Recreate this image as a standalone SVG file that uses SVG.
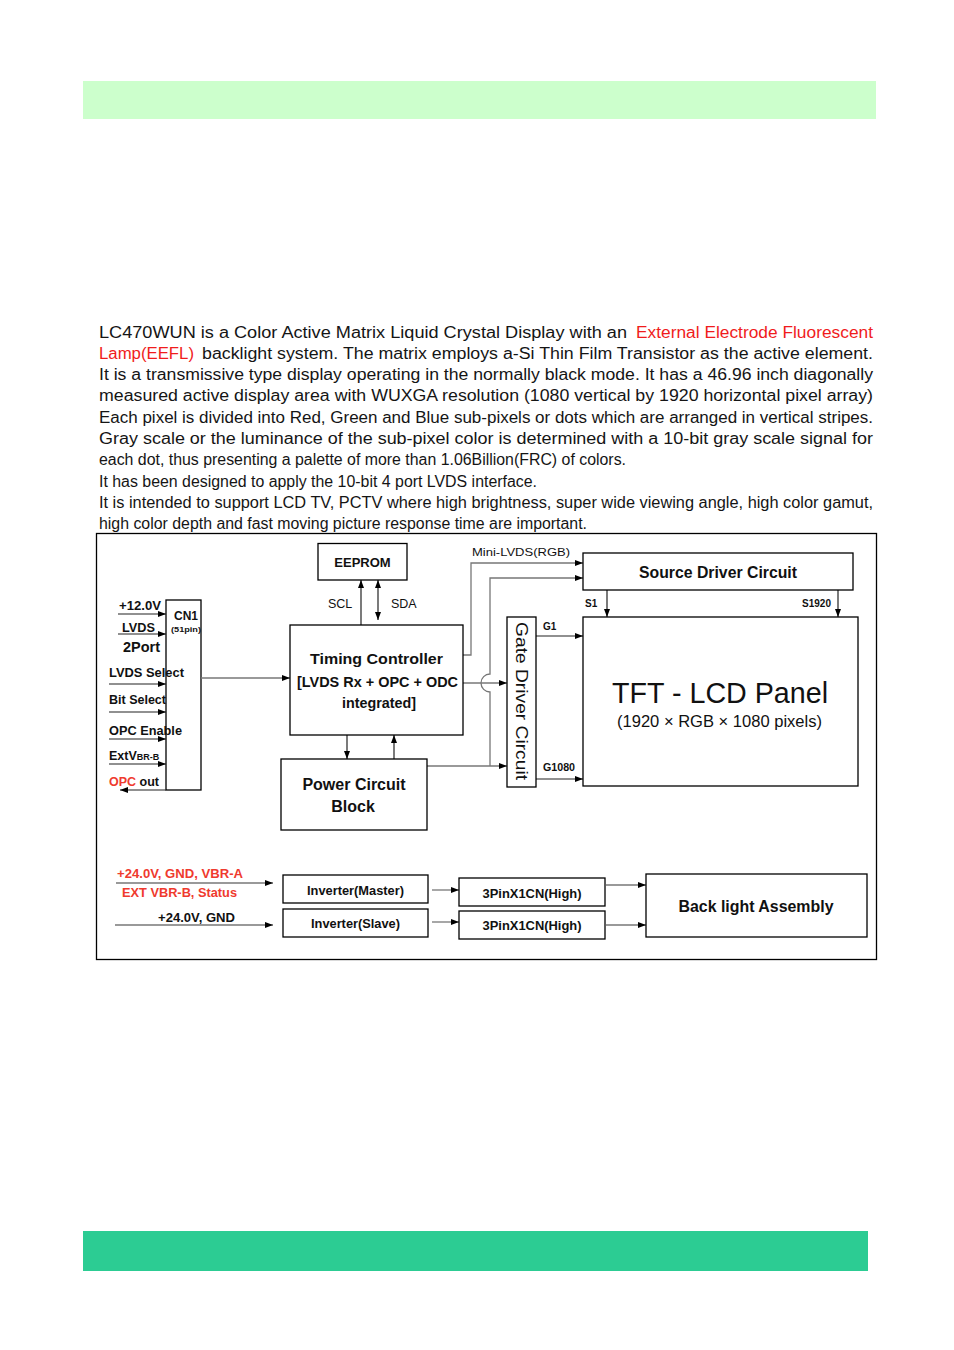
<svg xmlns="http://www.w3.org/2000/svg" width="954" height="1350" viewBox="0 0 954 1350">
<defs>
<marker id="ah" viewBox="0 0 8 6" markerWidth="8" markerHeight="6" refX="8" refY="3" orient="auto" markerUnits="userSpaceOnUse"><path d="M0,0 L8,3 L0,6 z" fill="#000"/></marker>
<style>
.p{font-family:'Liberation Sans',Arial,sans-serif;font-size:16px;fill:#151515}
.box{fill:#fff;stroke:#000;stroke-width:1.3}
.ln{fill:none;stroke:#777;stroke-width:1.3}
.lk{fill:none;stroke:#222;stroke-width:1.2}
.t{font-family:'Liberation Sans',Arial,sans-serif;fill:#111}
.b{font-weight:bold}
.m{text-anchor:middle}
.l12{font-size:12.5px;font-weight:bold}
.s10{font-size:10px;font-weight:bold}
.r{fill:#f01c1c}
.rb{fill:#ef3a2e}
</style>
</defs>
<rect width="954" height="1350" fill="#fff"/>
<rect id="top-bar" x="83" y="81" width="793" height="38" fill="#ccffcc"/>
<rect id="bottom-bar" x="83" y="1231" width="785" height="40" fill="#2ccc93"/>

<g id="intro">
<text class="p" x="99" y="337.5" textLength="528" lengthAdjust="spacingAndGlyphs">LC470WUN is a Color Active Matrix Liquid Crystal Display with an</text>
<text class="p r" x="636" y="337.5" textLength="237" lengthAdjust="spacingAndGlyphs">External Electrode Fluorescent</text>
<text class="p r" x="99" y="358.7" textLength="95" lengthAdjust="spacingAndGlyphs">Lamp(EEFL)</text>
<text class="p" x="202" y="358.7" textLength="671" lengthAdjust="spacingAndGlyphs">backlight system. The matrix employs a-Si Thin Film Transistor as the active element.</text>
<text class="p" x="99" y="380" textLength="774" lengthAdjust="spacingAndGlyphs">It is a transmissive type display operating in the normally black mode. It has a 46.96 inch  diagonally</text>
<text class="p" x="99" y="401.3" textLength="774" lengthAdjust="spacingAndGlyphs">measured active display area with WUXGA resolution (1080 vertical by 1920 horizontal pixel array)</text>
<text class="p" x="99" y="422.6" textLength="774" lengthAdjust="spacingAndGlyphs">Each pixel is divided into Red, Green and Blue sub-pixels or dots which are arranged in vertical stripes.</text>
<text class="p" x="99" y="443.9" textLength="774" lengthAdjust="spacingAndGlyphs">Gray scale or the luminance of the sub-pixel color is determined with a 10-bit gray scale signal for</text>
<text class="p" x="99" y="465.2" textLength="527" lengthAdjust="spacingAndGlyphs">each dot, thus presenting a palette of more than 1.06Billion(FRC) of colors.</text>
<text class="p" x="99" y="486.5" textLength="438" lengthAdjust="spacingAndGlyphs">It has been designed to apply the 10-bit 4 port LVDS interface.</text>
<text class="p" x="99" y="507.8" textLength="774" lengthAdjust="spacingAndGlyphs">It is intended to support LCD TV, PCTV where high brightness, super wide viewing angle, high color gamut,</text>
<text class="p" x="99" y="529.1" textLength="488" lengthAdjust="spacingAndGlyphs">high color depth and fast moving picture response time are important.</text>
</g>

<rect id="frame" x="96.5" y="533.5" width="780" height="426" fill="none" stroke="#000" stroke-width="1.3"/>

<g id="cn1">
<rect x="166" y="600" width="35" height="190" fill="none" stroke="#000" stroke-width="1.3"/>
<text class="t b m" x="186" y="620" font-size="12">CN1</text>
<text class="t b m" x="186" y="632" font-size="8" textLength="30" lengthAdjust="spacingAndGlyphs">(51pin)</text>
</g>

<g id="connectors">
<path class="lk" d="M361,625 V580" marker-end="url(#ah)"/>
<path class="lk" d="M378,600 V580" marker-end="url(#ah)"/>
<path class="lk" d="M378,600 V620" marker-end="url(#ah)"/>
<path class="lk" d="M347,735 V759" marker-end="url(#ah)"/>
<path class="lk" d="M394,759 V735" marker-end="url(#ah)"/>
<path class="ln" d="M201,678 H290" marker-end="url(#ah)"/>
<path class="ln" d="M463,655 H471 V563 H583" marker-end="url(#ah)"/>
<path class="ln" d="M490,766 V692 A9,9 0 0 1 490,674 V578 H583" marker-end="url(#ah)"/>
<path class="ln" d="M463,683 H507" marker-end="url(#ah)"/>
<path class="ln" d="M427,766 H507" marker-end="url(#ah)"/>
<path class="lk" d="M607,590 V617" marker-end="url(#ah)"/>
<path class="lk" d="M838,590 V617" marker-end="url(#ah)"/>
<path class="lk" d="M536,636 H583" marker-end="url(#ah)"/>
<path class="lk" d="M536,779 H583" marker-end="url(#ah)"/>
<path class="lk" d="M118,614 H166" marker-end="url(#ah)"/>
<path class="lk" d="M118,634 H166" marker-end="url(#ah)"/>
<path class="lk" d="M109,684 H166" marker-end="url(#ah)"/>
<path class="lk" d="M109,712 H166" marker-end="url(#ah)"/>
<path class="lk" d="M109,739 H166" marker-end="url(#ah)"/>
<path class="lk" d="M109,764 H166" marker-end="url(#ah)"/>
<path class="lk" d="M166,790 H120" marker-end="url(#ah)"/>
<path class="ln" d="M116,883 H273" marker-end="url(#ah)"/>
<path class="ln" d="M115,925 H273" marker-end="url(#ah)"/>
<path class="ln" d="M432,890 H459" marker-end="url(#ah)"/>
<path class="ln" d="M432,922 H459" marker-end="url(#ah)"/>
<path class="ln" d="M606,885 H646" marker-end="url(#ah)"/>
<path class="ln" d="M606,925 H646" marker-end="url(#ah)"/>
<text class="t" x="328" y="608" font-size="12.5">SCL</text>
<text class="t" x="391" y="608" font-size="12.5">SDA</text>
<text class="t" x="472" y="556" font-size="11.5" fill="#333" textLength="98" lengthAdjust="spacingAndGlyphs">Mini-LVDS(RGB)</text>
<text class="t s10" x="585" y="607">S1</text>
<text class="t s10" x="831" y="607" text-anchor="end">S1920</text>
<text class="t s10" x="543" y="630">G1</text>
<text class="t s10" x="543" y="771" textLength="32" lengthAdjust="spacingAndGlyphs">G1080</text>
<text class="t l12" x="119" y="610" textLength="42" lengthAdjust="spacingAndGlyphs">+12.0V</text>
<text class="t l12" x="122" y="632" textLength="33" lengthAdjust="spacingAndGlyphs">LVDS</text>
<text class="t b" x="123" y="652" font-size="14.5" textLength="37" lengthAdjust="spacingAndGlyphs">2Port</text>
<text class="t l12" x="109" y="677" textLength="75" lengthAdjust="spacingAndGlyphs">LVDS Select</text>
<text class="t l12" x="109" y="704" textLength="57" lengthAdjust="spacingAndGlyphs">Bit Select</text>
<text class="t l12" x="109" y="735" textLength="73" lengthAdjust="spacingAndGlyphs">OPC Enable</text>
<text class="t l12" x="109" y="760">ExtV<tspan font-size="9">BR-B</tspan></text>
<text class="t l12" x="109" y="786"><tspan class="rb">OPC</tspan> out</text>
<text class="t l12 rb" x="117" y="878" textLength="126" lengthAdjust="spacingAndGlyphs">+24.0V, GND, VBR-A</text>
<text class="t l12 rb" x="122" y="897" textLength="115" lengthAdjust="spacingAndGlyphs">EXT VBR-B, Status</text>
<text class="t l12" x="158" y="922" textLength="77" lengthAdjust="spacingAndGlyphs">+24.0V, GND</text>
</g>

<g id="eeprom">
<rect class="box" x="318" y="543.5" width="89" height="36.5"/>
<text class="t b m" x="362.5" y="567" font-size="13">EEPROM</text>
</g>
<g id="timing-controller">
<rect class="box" x="290" y="625" width="173" height="110"/>
<text class="t b m" x="376.5" y="664" font-size="15" textLength="133" lengthAdjust="spacingAndGlyphs">Timing Controller</text>
<text class="t b m" x="377.5" y="687" font-size="15" textLength="161" lengthAdjust="spacingAndGlyphs">[LVDS Rx + OPC + ODC</text>
<text class="t b m" x="379" y="708" font-size="15" textLength="74" lengthAdjust="spacingAndGlyphs">integrated]</text>
</g>
<g id="power-circuit">
<rect class="box" x="281" y="759" width="146" height="71"/>
<text class="t b m" x="354" y="790" font-size="16">Power Circuit</text>
<text class="t b m" x="353" y="812" font-size="16">Block</text>
</g>
<g id="source-driver">
<rect class="box" x="583" y="553" width="270" height="37"/>
<text class="t b m" x="718" y="578" font-size="16" textLength="158" lengthAdjust="spacingAndGlyphs">Source Driver Circuit</text>
</g>
<g id="gate-driver">
<rect class="box" x="507" y="617" width="29" height="170"/>
<text class="t m" transform="translate(515.5,701) rotate(90)" font-size="17" textLength="158" lengthAdjust="spacingAndGlyphs">Gate Driver Circuit</text>
</g>
<g id="tft-panel">
<rect class="box" x="583" y="617" width="275" height="169"/>
<text class="t m" x="720" y="703" font-size="29" textLength="216" lengthAdjust="spacingAndGlyphs">TFT - LCD Panel</text>
<text class="t m" x="719.5" y="727" font-size="16" fill="#333" textLength="205" lengthAdjust="spacingAndGlyphs">(1920 × RGB × 1080 pixels)</text>
</g>
<g id="inverter-master">
<rect class="box" x="283" y="875" width="145" height="28"/>
<text class="t b m" x="355.5" y="894.5" font-size="13" textLength="97" lengthAdjust="spacingAndGlyphs">Inverter(Master)</text>
</g>
<g id="inverter-slave">
<rect class="box" x="283" y="909" width="145" height="28"/>
<text class="t b m" x="355.5" y="928" font-size="13" textLength="89" lengthAdjust="spacingAndGlyphs">Inverter(Slave)</text>
</g>
<g id="connector-1">
<rect class="box" x="459" y="878" width="146" height="28"/>
<text class="t b m" x="532" y="897.5" font-size="13" textLength="99" lengthAdjust="spacingAndGlyphs">3PinX1CN(High)</text>
</g>
<g id="connector-2">
<rect class="box" x="459" y="911" width="146" height="28"/>
<text class="t b m" x="532" y="929.5" font-size="13" textLength="99" lengthAdjust="spacingAndGlyphs">3PinX1CN(High)</text>
</g>
<g id="backlight">
<rect class="box" x="646" y="874" width="221" height="63"/>
<text class="t b m" x="756" y="912" font-size="16" textLength="155" lengthAdjust="spacingAndGlyphs">Back light Assembly</text>
</g>
</svg>
